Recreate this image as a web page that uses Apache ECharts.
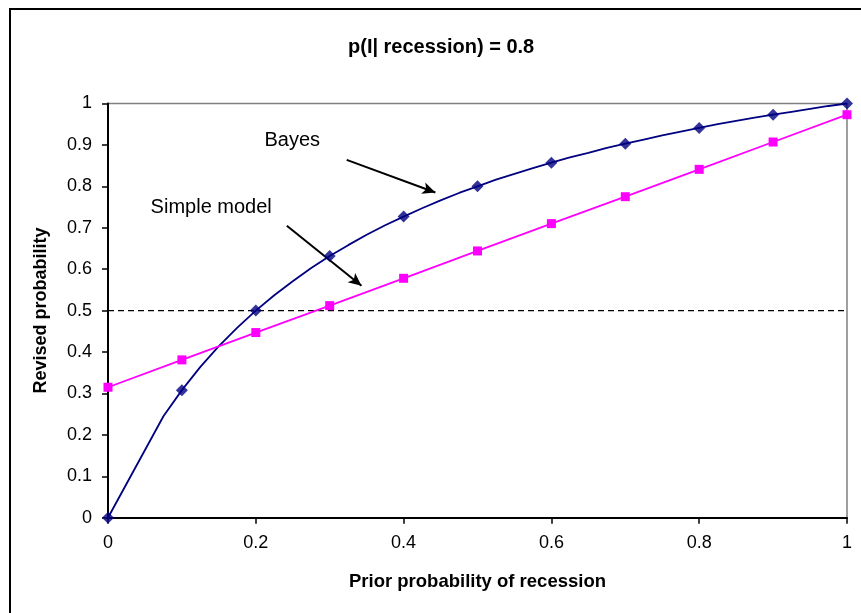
<!DOCTYPE html>
<html><head><meta charset="utf-8">
<script src="https://cdn.jsdelivr.net/npm/echarts@6/dist/echarts.min.js"></script>
<style>html,body{margin:0;padding:0;background:#fff}#chart{width:861px;height:613px}</style>
</head><body><div id="chart"></div>
<script>
// ---- data ----
const priorProbability = [0, 0.1, 0.2, 0.3, 0.4, 0.5, 0.6, 0.7, 0.8, 0.9, 1];
const bayesRevised = [0, 0.308, 0.5, 0.632, 0.727, 0.8, 0.857, 0.903, 0.941, 0.973, 1];
const simpleRevised = [0.315, 0.381, 0.447, 0.512, 0.578, 0.644, 0.71, 0.775, 0.841, 0.907, 0.973];
const bayesCurvePrior = [0, 0.075, 0.1, 0.125, 0.15, 0.175, 0.2, 0.225, 0.25, 0.275, 0.3, 0.325, 0.35, 0.375, 0.4, 0.425, 0.45, 0.475, 0.5, 0.525, 0.55, 0.575, 0.6, 0.625, 0.65, 0.675, 0.7, 0.725, 0.75, 0.775, 0.8, 0.825, 0.85, 0.875, 0.9, 0.925, 0.95, 0.975, 1];
const bayesCurveRevised = [0, 0.245, 0.308, 0.364, 0.414, 0.459, 0.5, 0.537, 0.571, 0.603, 0.632, 0.658, 0.683, 0.706, 0.727, 0.747, 0.766, 0.784, 0.8, 0.816, 0.83, 0.844, 0.857, 0.87, 0.881, 0.893, 0.903, 0.913, 0.923, 0.932, 0.941, 0.95, 0.958, 0.966, 0.973, 0.98, 0.987, 0.994, 1];
const thresholdLevel = 0.5;
const chartTitle = 'p(I| recession) = 0.8';
const xAxisTitle = 'Prior probability of recession';
const yAxisTitle = 'Revised probability';
const bayesNote = {text: 'Bayes', at: [0.211, 0.91], arrowFrom: [0.323, 0.864], arrowTo: [0.443, 0.785]};
const simpleNote = {text: 'Simple model', at: [0.057, 0.748], arrowFrom: [0.242, 0.705], arrowTo: [0.343, 0.56]};

const FONT = '"Liberation Sans", Arial, sans-serif';
const zip = (a, b) => a.map((v, i) => [v, b[i]]);

const chart = echarts.init(document.getElementById('chart'), null, {renderer: 'canvas'});
const noteLabel = n => ({
  coord: n.at, symbol: 'circle', symbolSize: 1, itemStyle: {color: 'rgba(0,0,0,0)'},
  label: {show: true, formatter: n.text, position: 'right', distance: 0, color: '#000', fontFamily: FONT, fontSize: 20}
});
const arrow = n => [
  {coord: n.arrowFrom, symbol: 'none'},
  {coord: n.arrowTo, symbol: 'arrow', symbolSize: [9, 13]}
];

chart.setOption({
  animation: false,
  backgroundColor: '#fff',
  title: {
    text: chartTitle, left: 343, top: 32,
    textStyle: {fontFamily: FONT, fontSize: 20, fontWeight: 'bold', color: '#000'}
  },
  graphic: [{
    type: 'rect', shape: {x: 10, y: 9, width: 870, height: 620},
    style: {fill: null, stroke: '#000', lineWidth: 2}, silent: true, z: 100
  }],
  grid: {left: 108, right: 14, top: 103.5, bottom: 95.3, show: true, borderColor: '#808080', borderWidth: 1.5, containLabel: false},
  xAxis: {
    type: 'value', min: 0, max: 1, interval: 0.2,
    name: xAxisTitle, nameLocation: 'middle', nameGap: 55,
    nameTextStyle: {fontFamily: FONT, fontSize: 18.5, fontWeight: 'bold', color: '#000'},
    axisLine: {show: true, lineStyle: {color: '#000', width: 2}},
    axisTick: {show: true, inside: false, length: 6, lineStyle: {color: '#000', width: 1.5}},
    axisLabel: {margin: 16, fontFamily: FONT, fontSize: 18, color: '#000'},
    splitLine: {show: false}
  },
  yAxis: {
    type: 'value', min: 0, max: 1, interval: 0.1,
    name: yAxisTitle, nameLocation: 'middle', nameGap: 58,
    nameTextStyle: {fontFamily: FONT, fontSize: 18, fontWeight: 'bold', color: '#000'},
    axisLine: {show: true, lineStyle: {color: '#000', width: 2}},
    axisTick: {show: true, inside: false, length: 6, lineStyle: {color: '#000', width: 1.5}},
    axisLabel: {margin: 16, fontFamily: FONT, fontSize: 18, color: '#000'},
    splitLine: {show: false}
  },
  series: [
    {
      name: 'threshold', type: 'line', data: [[0, thresholdLevel], [1, thresholdLevel]],
      symbol: 'none', lineStyle: {color: '#000', width: 1.3, type: [6, 4]}, z: 1,
      markLine: {
        silent: true, animation: false, symbol: ['none', 'arrow'],
        lineStyle: {color: '#000', width: 2, type: 'solid'}, label: {show: false},
        data: [arrow(bayesNote), arrow(simpleNote)]
      },
      markPoint: {silent: true, animation: false, data: [noteLabel(bayesNote), noteLabel(simpleNote)]}
    },
    {
      name: 'Bayes curve', type: 'line', data: zip(bayesCurvePrior, bayesCurveRevised),
      showSymbol: false, symbol: 'none', lineStyle: {color: '#000080', width: 1.8}, z: 3
    },
    {
      name: 'Bayes', type: 'scatter', data: zip(priorProbability, bayesRevised),
      symbol: 'diamond', symbolSize: [12, 12], itemStyle: {color: '#000080'}, z: 5
    },
    {
      name: 'Simple model', type: 'line', data: zip(priorProbability, simpleRevised),
      symbol: 'rect', symbolSize: 9, showAllSymbol: true,
      lineStyle: {color: '#FF00FF', width: 1.8}, itemStyle: {color: '#FF00FF'}, z: 4
    }
  ]
});
</script></body></html>
